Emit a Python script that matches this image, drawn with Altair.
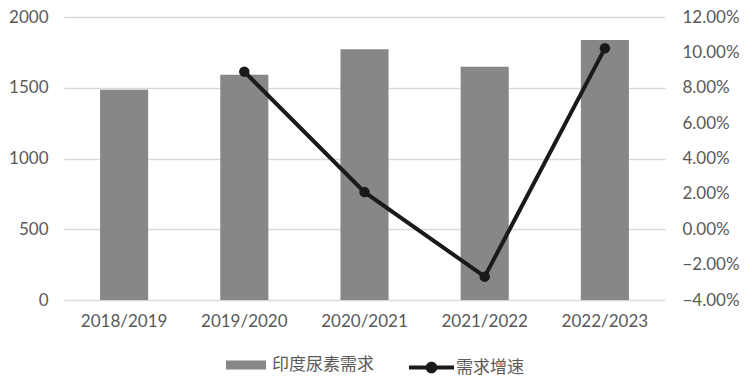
import altair as alt
import pandas as pd

years = ["2018/2019", "2019/2020", "2020/2021", "2021/2022", "2022/2023"]
demand = [1486, 1592, 1772, 1649, 1837]
growth = [None, 0.0891, 0.021, -0.0268, 0.1023]
left_ticks = [0, 500, 1000, 1500, 2000]
right_ticks = [-0.04, -0.02, 0.0, 0.02, 0.04, 0.06, 0.08, 0.10, 0.12]
bar_name = "印度尿素需求"
line_name = "需求增速"

df = pd.DataFrame({"year": years, "demand": demand, "growth": growth,
                   "s1": bar_name, "s2": line_name})
dfl = df.dropna(subset=["growth"])

FONT = "Lato, Noto Sans CJK SC"
TXT = "#595959"
FS = 17

x = alt.X("year:N", sort=years, title=None,
          scale=alt.Scale(paddingInner=0.6, paddingOuter=0.3),
          axis=alt.Axis(labelAngle=0, domain=False, ticks=False, labelPadding=13,
                        labelFontSize=FS, labelColor=TXT, labelFont=FONT))

bar_path = "M-1,-0.225H1V0.225H-1Z"
line_path = ("M-1,-0.09H1V0.09H-1Z M-0.26,0 A0.26,0.26 0 1,1 0.26,0 "
             "A0.26,0.26 0 1,1 -0.26,0 Z")

bars = alt.Chart(df).mark_bar(color="#878787").encode(
    x=x,
    y=alt.Y("demand:Q", title=None,
            scale=alt.Scale(domain=[0, 2000], nice=False),
            axis=alt.Axis(values=left_ticks, format="d", domain=False, ticks=False,
                          labelPadding=16,
                          labelFontSize=FS, labelColor=TXT, labelFont=FONT,
                          grid=True, gridColor="#d9d9d9", gridWidth=1.5)),
    color=alt.Color("s1:N", scale=alt.Scale(range=["#878787"]),
                    legend=alt.Legend(title=None, orient="none", legendX=162, legendY=328,
                                      symbolType=bar_path, symbolSize=1600, padding=0,
                                      labelFontSize=FS, labelColor=TXT, labelFont=FONT,
                                      labelOffset=6, symbolStrokeWidth=0)),
)

line = alt.Chart(dfl).mark_line(color="#1a1a1a", strokeWidth=4).encode(
    x=x, y=alt.Y("growth:Q", title=None,
                 scale=alt.Scale(domain=[-0.04, 0.12], nice=False), axis=None))

points = alt.Chart(dfl).mark_circle(size=110, opacity=1).encode(
    x=x,
    y=alt.Y("growth:Q", title=None, scale=alt.Scale(domain=[-0.04, 0.12], nice=False),
            axis=alt.Axis(orient="right", values=right_ticks, format=".2%", domain=False,
                          ticks=False, grid=False, labelPadding=17,
                          labelFontSize=FS, labelColor=TXT, labelFont=FONT)),
    color=alt.Color("s2:N", scale=alt.Scale(range=["#1a1a1a"]),
                    legend=alt.Legend(title=None, orient="none", legendX=345, legendY=328,
                                      symbolType=line_path, symbolSize=2025, padding=0,
                                      labelFontSize=FS, labelColor=TXT, labelFont=FONT,
                                      labelOffset=2, symbolStrokeWidth=0)),
)

chart = alt.layer(bars, line, points).resolve_scale(
    y="independent", color="independent"
).properties(
    width=601, height=283,
    autosize=alt.AutoSizeParams(type="none"),
    padding={"left": 64, "top": 17, "right": 87, "bottom": 81},
    background="white",
).configure_view(stroke=None)

chart.save("out.html", embed_options={"renderer": "svg", "actions": False})
